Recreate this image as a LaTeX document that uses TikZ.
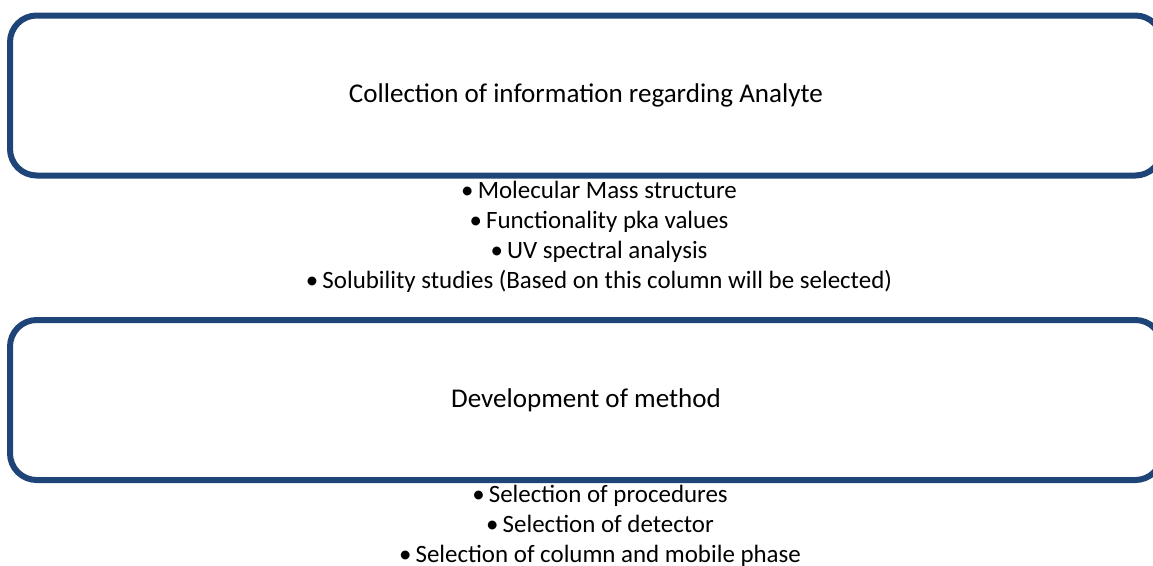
\documentclass[tikz,border=0pt]{standalone}
\usepackage{fontspec}
\setmainfont{Carlito}
\usetikzlibrary{positioning}
\definecolor{boxblue}{RGB}{31,69,120}

\begin{document}
\begin{tikzpicture}[x=0.75pt,y=-0.75pt]
\tikzset{stagebox/.style={rectangle,rounded corners=20pt,draw=boxblue,line width=4.5pt,minimum width=864pt,minimum height=120pt,font=\fontsize{20.3pt}{24pt}\selectfont},
pointlist/.style={align=center,font=\fontsize{18.7pt}{22.5pt}\selectfont}}
\useasboundingbox (0,0) rectangle (1153,565);
\clip (0,0) rectangle (1153,565);
\node[stagebox](collect) at (586,95.5){Collection of information regarding Analyte};
\node[pointlist](collectpts) at (599,237){\textbullet\,Molecular Mass structure\\ \textbullet\,Functionality pka values\\ \textbullet\,UV spectral analysis\\ \textbullet\,Solubility studies (Based on this column will be selected)};
\node[stagebox](develop) at (586,400){Development of method};
\node[pointlist](developpts) at (600,526){\textbullet\,Selection of procedures\\ \textbullet\,Selection of detector\\ \textbullet\,Selection of column and mobile phase};
\end{tikzpicture}
\end{document}
